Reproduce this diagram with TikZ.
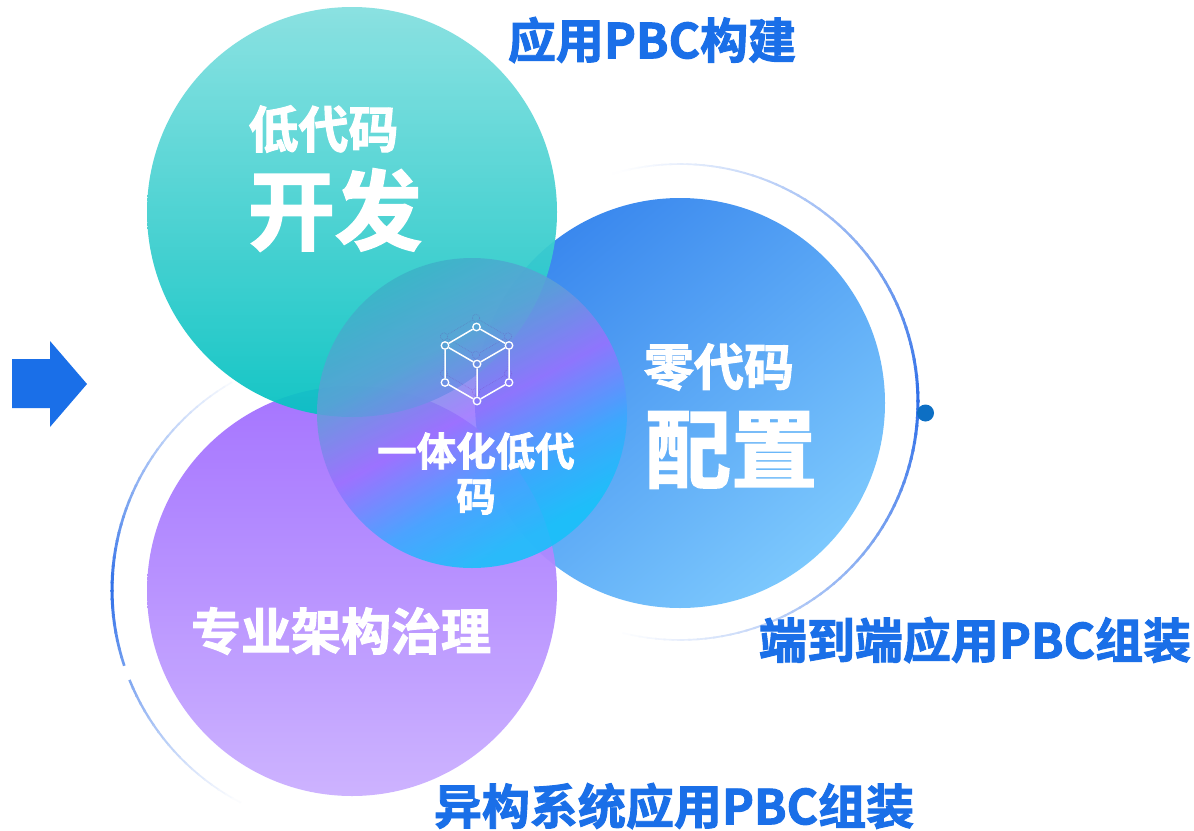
\documentclass[tikz,border=0pt]{standalone}
\usepackage{fontspec}
\setmainfont{Noto Sans CJK SC}[BoldFont={Noto Sans CJK SC Bold},BoldFeatures={FakeBold=2}]
\definecolor{ringblue}{HTML}{2F6FE8}
\definecolor{labelblue}{HTML}{1A6FE8}
\definecolor{dotblue}{HTML}{0D6FC4}
\definecolor{tealA}{HTML}{84E0E0}
\definecolor{tealM}{HTML}{46D6D6}
\definecolor{tealB}{HTML}{06C2C2}
\definecolor{purA}{HTML}{A06CFF}
\definecolor{purB}{HTML}{CAAFFF}
\definecolor{bluA}{HTML}{3A88EE}
\definecolor{bluM}{HTML}{5EB2F8}
\definecolor{bluB}{HTML}{7CC8FD}
\definecolor{ctA}{HTML}{3CB2C8}
\definecolor{ctB}{HTML}{5F9FD8}
\definecolor{ctC}{HTML}{9A70FF}
\definecolor{ctD}{HTML}{3AA8FF}
\definecolor{ctE}{HTML}{14C2FA}
\pgfdeclareverticalshading{centreshade}{100bp}{
  color(0bp)=(ctE); color(28bp)=(ctE); color(38bp)=(ctD);
  color(50bp)=(ctC); color(62bp)=(ctB); color(75bp)=(ctA); color(100bp)=(ctA)}
\tikzset{
  lab/.style={inner sep=0pt,text=white,anchor=center},
  head/.style={inner sep=0pt,text=labelblue,anchor=center},
  vertex/.style={circle,draw=white,line width=1.3pt,inner sep=0pt,minimum size=7.5pt},
  edge/.style={draw=white,line width=1.5pt},
  ghost/.style={circle,draw=purple!60!blue,draw opacity=.2,densely dotted,line width=.7pt,inner sep=0pt,minimum size=7.5pt},
  gedge/.style={draw=purple!60!blue,draw opacity=.2,densely dotted,line width=.7pt}
}
\newcommand{\fs}[1]{\fontsize{#1pt}{#1pt}\bfseries\selectfont}
\newcommand{\ringpiece}[5]{%
  \pgfmathsetmacro{\pc}{100*(1-\ab)^1.15}
  \pgfmathsetmacro{\lw}{3.1-1.7*\ab}
  \draw[ringblue!\pc!white,line width=\lw pt]
    ({#1+#3*cos(#4)},{#2-#3*sin(#4)}) -- ({#1+#3*cos(#4+#5)},{#2-#3*sin(#4+#5)});
}
\begin{document}
\begin{tikzpicture}[x=1pt,y=-1pt]
\useasboundingbox (0,0) rectangle (1194,830);
\fill[white] (0,0) rectangle (1194,830);
% rings
\foreach \a in {-104,-102,...,104}{
  \pgfmathsetmacro{\ab}{abs(\a+1)/106}
  \ringpiece{680}{402}{238}{\a}{2.5}
}
\foreach \a in {120,122,...,196,202,204,...,240}{
  \pgfmathsetmacro{\ab}{abs(\a+1-180)/63}
  \ringpiece{352}{590}{240}{\a}{2.4}
}
% circles
\shade[top color=bluA,middle color=bluM,bottom color=bluB,shading angle=40] (680,403) circle[radius=205pt];
\shade[top color=purA,bottom color=purB,opacity=.94] (352,591) circle[radius=205pt];
\shade[top color=tealA,middle color=tealM,bottom color=tealB,opacity=.94] (352,212) circle[radius=205pt];
\shade[shading=centreshade,shading angle=28,opacity=.86] (472,413) circle[radius=155pt];
% dot and arrow
\fill[dotblue] (925.5,413) circle[radius=8.5pt];
\fill[labelblue] (12,359) -- (50,359) -- (50,341) -- (87,384) -- (50,427) -- (50,408) -- (12,408) -- cycle;
% cube ghost
\begin{scope}[shift={(-2,-9)}]
  \node[ghost] (gt) at (478,327) {};
  \node[ghost] (gl) at (446,345.5) {};
  \node[ghost] (gr) at (510,345.5) {};
  \node[ghost] (gc) at (478,364) {};
  \node[ghost] (gbl) at (446,382.5) {};
  \node[ghost] (gbr) at (510,382.5) {};
  \node[ghost] (gb) at (478,401) {};
  \path[gedge] (gt)--(gl) (gt)--(gr) (gl)--(gc) (gr)--(gc) (gl)--(gbl) (gr)--(gbr) (gc)--(gb) (gbl)--(gb) (gbr)--(gb);
\end{scope}
% cube
\node[vertex] (t) at (476.5,327) {};
\node[vertex] (l) at (445,345.5) {};
\node[vertex] (r) at (509,345.5) {};
\node[vertex] (c) at (477,364) {};
\node[vertex] (bl) at (445,382.5) {};
\node[vertex] (br) at (509,382.5) {};
\node[vertex] (b) at (477,401) {};
\path[edge] (t)--(l) (t)--(r) (l)--(c) (r)--(c) (l)--(bl) (r)--(br) (c)--(b) (bl)--(b) (br)--(b);
% texts
\node[lab] (t1) at (323.5,129) {\fs{50}低代码};
\node[lab] (t2) at (335,210) {\fs{87}开发};
\node[lab] (t3) at (719,367) {\fs{50}零代码};
\node[lab] (t4) at (731,450) {\fs{86}配置};
\node[lab] (t5) at (476,451) {\fs{39.5}一体化低代};
\node[lab] (t6) at (476,497) {\fs{39.5}码};
\node[lab] (t7) at (341,631) {\fs{50}专业架构治理};
\node[head] (h1) at (652,40) {\fs{48}应用PBC构建};
\node[head] (h2) at (975,640) {\fs{48}端到端应用PBC组装};
\node[head] (h3) at (674,806) {\fs{48}异构系统应用PBC组装};
\end{tikzpicture}
\end{document}
